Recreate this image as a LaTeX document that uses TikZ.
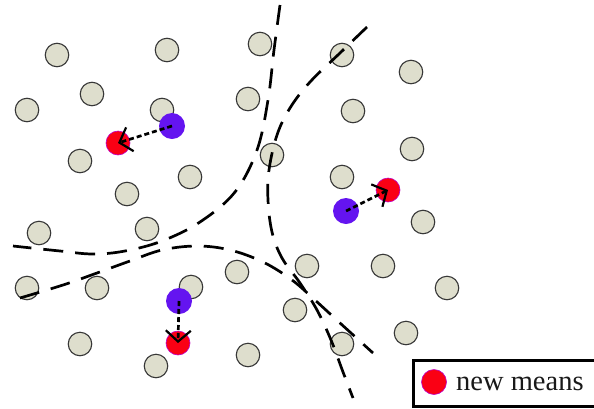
\documentclass[tikz,border=0pt]{standalone}
\usepackage{fontspec}
\setmainfont{Liberation Serif}
\usetikzlibrary{arrows.meta}
\definecolor{ptfill}{RGB}{222,222,205}
\definecolor{ptline}{RGB}{55,55,55}
\definecolor{meanred}{RGB}{250,0,20}
\definecolor{redrim}{RGB}{190,0,200}
\definecolor{meanblue}{RGB}{100,20,240}
\definecolor{txt}{RGB}{25,25,25}
\tikzset{
  pt/.style={circle, draw=ptline, fill=ptfill, line width=1.1pt, minimum size=23.5pt, inner sep=0pt},
  oldmean/.style={circle, fill=meanblue, minimum size=26pt, inner sep=0pt},
  newmean/.style={circle, fill=meanred, draw=redrim, line width=0.6pt, minimum size=24pt, inner sep=0pt},
  boundary/.style={line width=2.7pt, dash pattern=on 20pt off 12pt, black},
  meanarrow/.style={line width=2.7pt, dash pattern=on 5pt off 3pt, black,
     -{Straight Barb[length=11pt, width=25pt, line width=2.2pt]}},
  legendbox/.style={draw=black, line width=3pt, fill=white, minimum width=190pt, minimum height=46pt, inner sep=0pt},
}
\begin{document}
\begin{tikzpicture}[x=1pt, y=-1pt]
\useasboundingbox (0,0) rectangle (594,408);
% data points
\foreach \n/\px/\py in {p1/57/55, p2/167/50, p3/260/44, p4/342/55, p5/411/72,
  p6/27/110, p7/92/94, p8/162/110, p9/248/99, p10/353/111,
  p11/80/161, p12/190/177, p13/127/194, p14/272/155, p15/412/149, p16/342/177,
  p17/39/233, p18/147/229, p19/27/288, p20/97/288, p21/191/287, p22/237/272,
  p23/307/266, p24/383/266, p25/423/222, p26/447/288, p27/295/310, p28/406/333,
  p29/80/344, p30/156/366, p31/248/355, p32/342/344}
  \node[pt] (\n) at (\px,\py) {};
% boundaries
\draw[boundary] plot[smooth, tension=0.6] coordinates {(280,5) (274,50) (268,100) (257,150) (235,192) (200,222) (162,241) (125,251) (93,254) (60,251) (13,246)};
\draw[boundary] plot[smooth, tension=0.6] coordinates {(20,298) (63,285) (97,273) (130,261) (162,250) (197,246) (230,250) (263,262) (292,280) (316,301) (340,323) (373,353)};
\draw[boundary] plot[smooth, tension=0.6] coordinates {(367,27) (340,53) (310,82) (290,108) (277,135) (269,170) (268,200) (272,232) (282,258) (300,283) (317,310) (331,340) (343,372) (353,398)};
% old and new means
\node[oldmean] (b1) at (172,126) {};
\node[oldmean] (b2) at (346,211) {};
\node[oldmean] (b3) at (179,301) {};
\node[newmean] (r1) at (118,143) {};
\node[newmean] (r2) at (388,190) {};
\node[newmean] (r3) at (178,343) {};
\draw[meanarrow] (b1.center) -- (r1.center);
\draw[meanarrow] (b2.center) -- (r2.center);
\draw[meanarrow] (b3.center) -- (r3.center);
% legend
\node[legendbox, anchor=north west] (legend) at (412,359) {};
\node[newmean, minimum size=25pt] (lr) at (434,382) {};
\node[anchor=base west, inner sep=0pt, text=txt, font=\fontsize{28.5}{30}\selectfont] (lt) at (456,390) {new means};
\end{tikzpicture}
\end{document}
